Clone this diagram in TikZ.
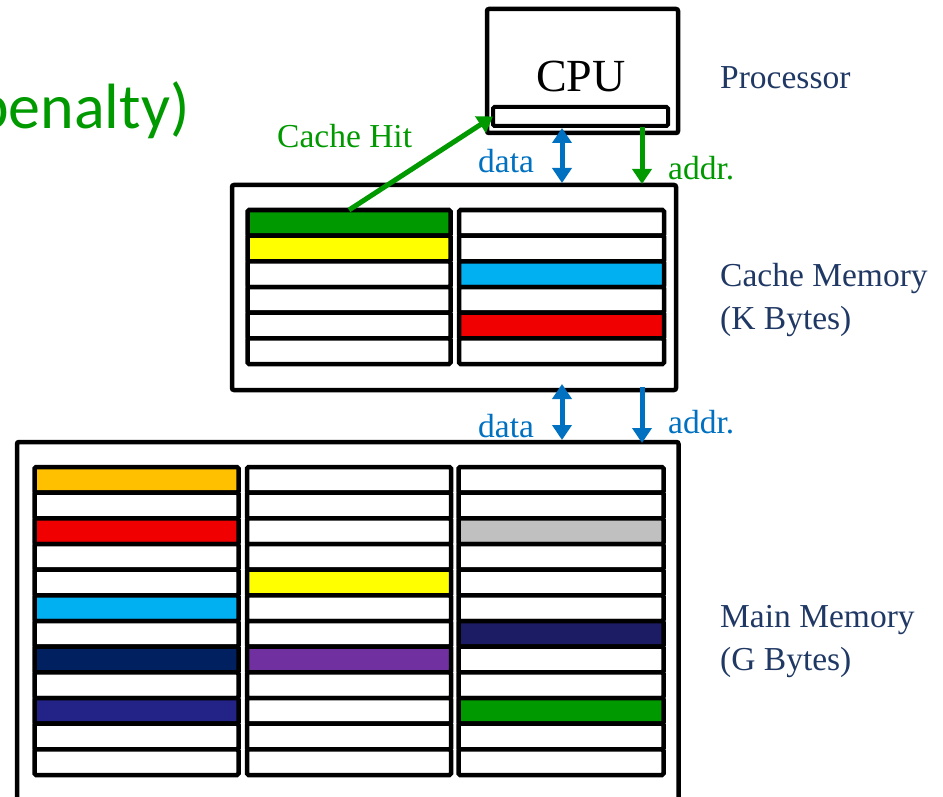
\documentclass[tikz,border=0pt]{standalone}
\usepackage{fontspec}
\setmainfont{Liberation Serif}
\newfontfamily\calfont{Carlito}
\usetikzlibrary{arrows.meta}
\definecolor{hitgreen}{HTML}{009900}
\definecolor{busblue}{HTML}{0070C0}
\definecolor{labelnavy}{HTML}{203864}
\definecolor{cyanfill}{HTML}{00B0F0}
\definecolor{redfill}{HTML}{F00000}
\definecolor{yellowfill}{HTML}{FFFF00}
\definecolor{orangefill}{HTML}{FFC000}
\definecolor{navyfill}{HTML}{002060}
\definecolor{indigofill}{HTML}{232387}
\definecolor{midnightfill}{HTML}{1C1C64}
\definecolor{purplefill}{HTML}{7030A0}
\definecolor{grayfill}{HTML}{C0C0C0}
\begin{document}
\begin{tikzpicture}[x=1pt,y=-1pt,
  box/.style={draw=black, line width=4.5pt, rounded corners=2pt, inner sep=0pt, outer sep=0pt, fill=white},
  cell/.style={draw=black, line width=4.5pt, rounded corners=1.5pt, minimum width=#1, minimum height=25.667pt, inner sep=0pt, outer sep=0pt},
  lbl/.style={anchor=base west, inner sep=0pt, font=\fontsize{33.5}{38}\selectfont},
  blockarrow/.style={line width=5pt, -{Triangle[width=19pt,length=15pt]}},
  dblarrow/.style={line width=5pt, {Triangle[width=19pt,length=15pt]}-{Triangle[width=19pt,length=15pt]}}
]
\useasboundingbox (0,0) rectangle (943,797);
\clip (0,0) rectangle (943,797);

% partially visible title text
\node[anchor=base west, inner sep=0pt, text=hitgreen, font=\calfont\fontsize{64}{70}\selectfont] (penalty) at (-25,129) {penalty)};

% CPU
\node[box, minimum width=191pt, minimum height=124pt] (cpu) at (582.5,71) {};
\node[anchor=base, inner sep=0pt, font=\fontsize{46}{50}\selectfont] (cpulabel) at (581,92) {CPU};
\node[box, line width=4pt, rounded corners=1.5pt, minimum width=175pt, minimum height=19pt] (reg) at (580.5,116.5) {};

% Cache memory
\node[box, minimum width=444pt, minimum height=205pt] (cache) at (454,287.5) {};
\foreach \f [count=\i] in {hitgreen,yellowfill,white,white,white,white}
  \node[cell=203pt, fill=\f] (cL\i) at (349,{210+25.667*(\i-0.5)}) {};
\foreach \f [count=\i] in {white,white,cyanfill,white,redfill,white}
  \node[cell=205pt, fill=\f] (cR\i) at (561.5,{210+25.667*(\i-0.5)}) {};

% Main memory
\node[box, minimum width=661.5pt, minimum height=400pt] (main) at (347.75,642) {};
\foreach \f [count=\i] in {orangefill,white,redfill,white,white,cyanfill,white,navyfill,white,indigofill,white,white}
  \node[cell=204pt, fill=\f] (mA\i) at (136.5,{467+25.667*(\i-0.5)}) {};
\foreach \f [count=\i] in {white,white,white,white,yellowfill,white,white,purplefill,white,white,white,white}
  \node[cell=204pt, fill=\f] (mB\i) at (349,{467+25.667*(\i-0.5)}) {};
\foreach \f [count=\i] in {white,white,grayfill,white,white,white,midnightfill,white,white,hitgreen,white,white}
  \node[cell=205pt, fill=\f] (mC\i) at (561,{467+25.667*(\i-0.5)}) {};

% bus end points
\coordinate (d1t) at (562,128);
\coordinate (d1b) at (562,183);
\coordinate (a1t) at (642,127);
\coordinate (a1b) at (642,184);
\coordinate (d2t) at (562,384);
\coordinate (d2b) at (562,440);
\coordinate (a2t) at (642,387);
\coordinate (a2b) at (642,443);

% connectors
\draw[dblarrow, busblue] (d1t) -- (d1b);
\draw[blockarrow, hitgreen] (a1t) -- (a1b);
\draw[dblarrow, busblue] (d2t) -- (d2b);
\draw[blockarrow, busblue] (a2t) -- (a2b);
\draw[blockarrow, hitgreen] (cL1.north) -- (reg.west);

% labels
\node[lbl, text=hitgreen] (hitlbl) at (277,148) {Cache Hit};
\node[lbl, text=busblue] (data1) at (478,173) {data};
\node[lbl, text=hitgreen] (addr1) at (668,180) {addr.};
\node[lbl, text=busblue] (data2) at (478,437) {data};
\node[lbl, text=busblue] (addr2) at (668,433) {addr.};
\node[lbl, text=labelnavy] (proc) at (720,89) {Processor};
\node[lbl, text=labelnavy] (cachelbl) at (720,286) {Cache Memory};
\node[lbl, text=labelnavy] (cachesize) at (720,329) {(K Bytes)};
\node[lbl, text=labelnavy] (mainlbl) at (720,627) {Main Memory};
\node[lbl, text=labelnavy] (mainsize) at (720,670) {(G Bytes)};
\end{tikzpicture}
\end{document}
